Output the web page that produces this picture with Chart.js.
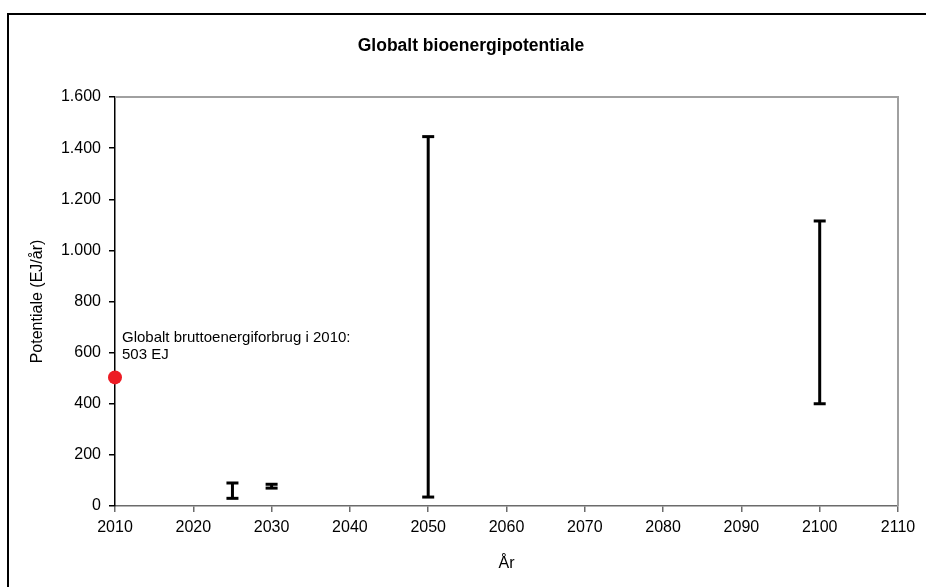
<!DOCTYPE html>
<html>
<head>
<meta charset="utf-8">
<script src="https://cdn.jsdelivr.net/npm/chart.js@4.4.1/dist/chart.umd.min.js"></script>
<style>
  html, body { margin: 0; padding: 0; background: #fff; }
  #wrap { position: relative; width: 926px; height: 587px; }
</style>
</head>
<body>
<div id="wrap"><canvas id="c" width="926" height="587"></canvas></div>
<script>
// ---- data ----
const chartTitle = 'Globalt bioenergipotentiale';
const xAxisTitle = 'År';
const yAxisTitle = 'Potentiale (EJ/år)';
const rangeYears = [2025, 2030, 2050, 2100];
const rangeLow   = [30, 70, 35, 400];
const rangeHigh  = [90, 85, 1445, 1115];
const refYear = [2010];
const refValue = [503];
const refLabel = ['Globalt bruttoenergiforbrug i 2010:', '503 EJ'];
const xMin = 2010, xMax = 2110, xStep = 10;
const yMin = 0, yMax = 1600, yStep = 200;

function fmtThousands(v) {
  return String(v).replace(/\B(?=(\d{3})+(?!\d))/g, '.');
}

const FONT = '"Liberation Sans", Arial, sans-serif';

const datasets = rangeYears.map((yr, i) => ({
  type: 'scatter',
  showLine: true,
  data: [{x: yr, y: rangeLow[i]}, {x: yr, y: rangeHigh[i]}],
  borderColor: '#000',
  borderWidth: 3,
  pointStyle: 'line',
  pointRadius: 6,
  pointBorderWidth: 3,
  pointBorderColor: '#000',
  pointBackgroundColor: '#000'
}));
datasets.push({
  type: 'scatter',
  data: refYear.map((yr, i) => ({x: yr, y: refValue[i]})),
  pointStyle: 'circle',
  pointRadius: 7,
  pointBorderWidth: 0,
  backgroundColor: '#ED1C24',
  borderColor: '#ED1C24',
  clip: false
});

const framePlugin = {
  id: 'frame',
  afterDraw(chart) {
    const ctx = chart.ctx, a = chart.chartArea;
    ctx.save();
    // outer frame
    ctx.strokeStyle = '#000';
    ctx.lineWidth = 2;
    ctx.strokeRect(8, 14, 1000, 1000);
    // plot border top/right
    ctx.strokeStyle = '#a0a0a0';
    ctx.lineWidth = 2;
    ctx.beginPath();
    ctx.moveTo(a.left, a.top);
    ctx.lineTo(a.right, a.top);
    ctx.lineTo(a.right, a.bottom);
    ctx.stroke();
    // chart title
    ctx.fillStyle = '#000';
    ctx.font = 'bold 17.5px ' + FONT;
    ctx.textAlign = 'center';
    ctx.textBaseline = 'middle';
    ctx.fillText(chartTitle, 471, 46);
    ctx.restore();
  },
  afterDatasetsDraw(chart) {
    const ctx = chart.ctx;
    const xs = chart.scales.x, ys = chart.scales.y;
    const px = xs.getPixelForValue(refYear[0]);
    const py = ys.getPixelForValue(refValue[0]);
    ctx.save();
    ctx.fillStyle = '#000';
    ctx.font = '15px ' + FONT;
    ctx.textAlign = 'left';
    ctx.textBaseline = 'alphabetic';
    ctx.fillText(refLabel[0], px + 7, py - 35);
    ctx.fillText(refLabel[1], px + 7, py - 18);
    ctx.restore();
  }
};

new Chart(document.getElementById('c'), {
  type: 'scatter',
  data: { datasets },
  options: {
    responsive: false,
    animation: false,
    layout: { padding: { left: 0, right: 28, top: 97, bottom: 0 } },
    plugins: {
      legend: { display: false },
      tooltip: { enabled: false },
      title: { display: false }
    },
    scales: {
      x: {
        type: 'linear',
        min: xMin, max: xMax,
        ticks: {
          stepSize: xStep,
          color: '#000',
          font: { family: FONT, size: 16 },
          padding: 6,
          maxRotation: 0,
          callback: v => String(v)
        },
        grid: { drawOnChartArea: false, tickLength: 6, color: '#6b6b6b', lineWidth: 1.5 },
        border: { color: '#6b6b6b', width: 1.5 },
        title: {
          display: true, text: xAxisTitle, color: '#000',
          font: { family: FONT, size: 16 },
          padding: { top: 0, bottom: 14 }
        },
        afterFit(s) { s.height = 81; }
      },
      y: {
        type: 'linear',
        min: yMin, max: yMax,
        ticks: {
          stepSize: yStep,
          color: '#000',
          font: { family: FONT, size: 16 },
          padding: 8,
          callback: v => fmtThousands(v)
        },
        grid: { drawOnChartArea: false, tickLength: 6, color: '#000', lineWidth: 1.5 },
        border: { color: '#000', width: 1.5 },
        title: {
          display: true, text: yAxisTitle, color: '#000',
          font: { family: FONT, size: 16 },
          padding: { top: 28, bottom: 0 }
        },
        afterFit(s) { s.width = 115; }
      }
    }
  },
  plugins: [framePlugin]
});
</script>
</body>
</html>
